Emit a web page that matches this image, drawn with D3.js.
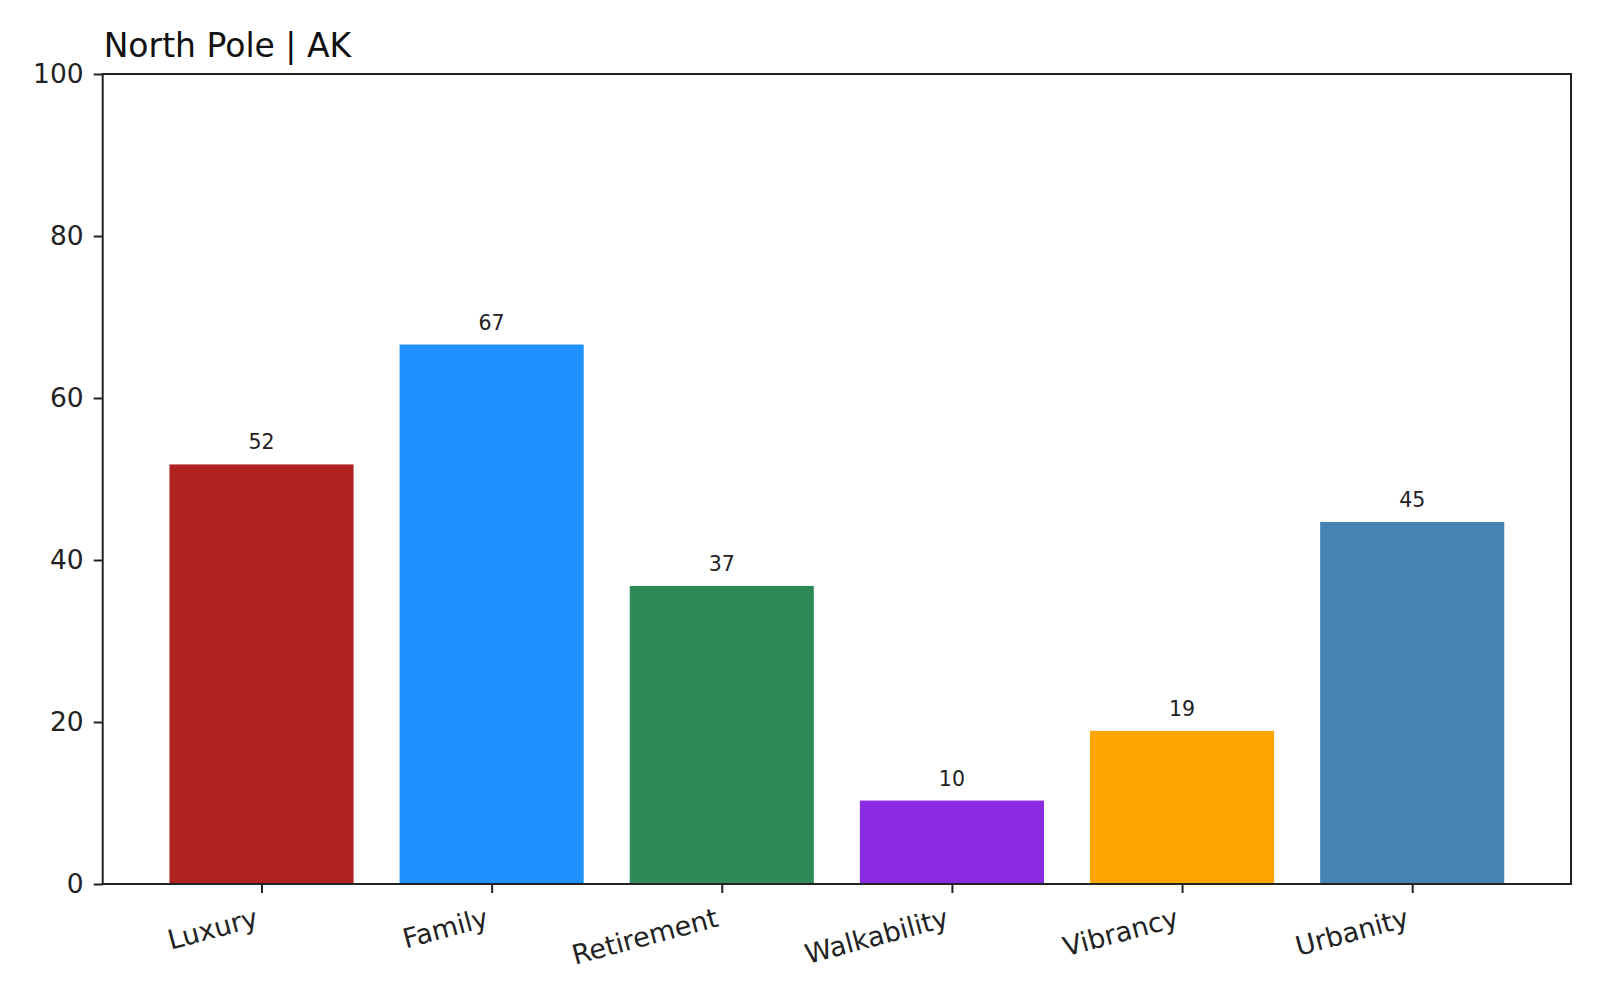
<!DOCTYPE html>
<html>
<head>
<meta charset="utf-8">
<script src="https://cdn.jsdelivr.net/npm/d3@7"></script>
<style>
  html, body { margin: 0; padding: 0; background: #fff; }
  svg { display: block; font-family: "DejaVu Sans", sans-serif; }
</style>
</head>
<body>
<svg id="chart" width="1600" height="1000"></svg>
<script>
const title = "North Pole | AK";
const categories = ["Luxury", "Family", "Retirement", "Walkability", "Vibrancy", "Urbanity"];
const values = [51.8, 66.6, 36.8, 10.3, 18.9, 44.7];
const colors = ["#B22222", "#1E90FF", "#2E8B57", "#8A2BE2", "#FFA500", "#4682B4"];
const yTicks = [0, 20, 40, 60, 80, 100];

const svg = d3.select("#chart");
const m = { left: 102.7, right: 1571, top: 74, bottom: 884 };

// matplotlib-like categorical positions with 5% margins
const x = d3.scaleLinear().domain([-0.69, categories.length - 1 + 0.69]).range([m.left, m.right]);
const y = d3.scaleLinear().domain([0, 100]).range([m.bottom, m.top]);
const barW = x(0.8) - x(0);

const data = categories.map((c, i) => ({ c, i, v: values[i], col: colors[i] }));

svg.append("g").selectAll("rect").data(data).join("rect")
  .attr("x", d => x(d.i) - barW / 2)
  .attr("width", barW)
  .attr("y", d => y(d.v))
  .attr("height", d => y(0) - y(d.v))
  .attr("fill", d => d.col);

svg.append("g").selectAll("text").data(data).join("text")
  .attr("x", d => x(d.i))
  .attr("y", d => y(d.v) - 15)
  .attr("text-anchor", "middle")
  .attr("font-size", 20.5)
  .attr("fill", "#222")
  .text(d => Math.round(d.v));

// Y axis
const yAxis = d3.axisLeft(y).tickValues(yTicks).tickSize(9).tickPadding(10);
const gy = svg.append("g").attr("transform", `translate(${m.left},0)`).call(yAxis);
gy.select(".domain").remove();
gy.selectAll(".tick line").attr("stroke", "#222").attr("stroke-width", 2);
gy.selectAll(".tick text").attr("font-size", 26.5).attr("fill", "#222")
  .attr("font-family", "DejaVu Sans");

// X axis
const xAxis = d3.axisBottom(x).tickValues(d3.range(categories.length))
  .tickSize(9).tickFormat(() => "");
const gx = svg.append("g").attr("transform", `translate(0,${m.bottom})`).call(xAxis);
gx.select(".domain").remove();
gx.selectAll(".tick line").attr("stroke", "#222").attr("stroke-width", 2);

svg.append("g").selectAll("text").data(data).join("text")
  .attr("transform", d => `translate(${x(d.i) - 2},${m.bottom + 42}) rotate(-15)`)
  .attr("text-anchor", "end")
  .attr("font-size", 27)
  .attr("fill", "#222")
  .text(d => d.c);

// Frame
svg.append("rect")
  .attr("x", m.left).attr("y", m.top)
  .attr("width", m.right - m.left).attr("height", m.bottom - m.top)
  .attr("fill", "none").attr("stroke", "#222").attr("stroke-width", 2);

// Title
svg.append("text")
  .attr("x", m.left + 1).attr("y", 57)
  .attr("font-size", 33)
  .attr("fill", "#111")
  .text(title);
</script>
</body>
</html>
